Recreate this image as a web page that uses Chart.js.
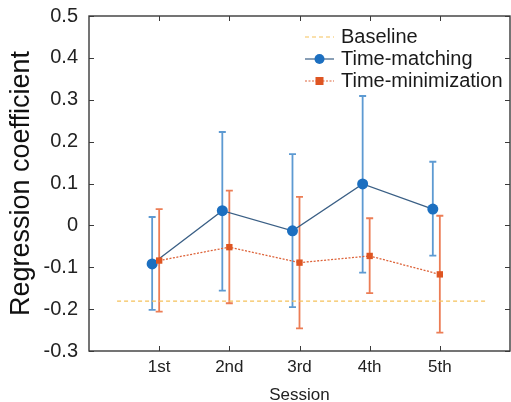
<!DOCTYPE html>
<html>
<head>
<meta charset="utf-8">
<script src="https://cdn.jsdelivr.net/npm/chart.js@4"></script>
<style>
  body { margin: 0; background: #fff; }
  #wrap { width: 511px; height: 402px; }
</style>
</head>
<body>
<div id="wrap"><canvas id="myChart" width="511" height="402"></canvas></div>
<script>
// data
var sessions = ["1st", "2nd", "3rd", "4th", "5th"];
var matchMean = [-0.092, 0.035, -0.013, 0.099, 0.039];
var matchUpper = [0.020, 0.223, 0.170, 0.309, 0.152];
var matchLower = [-0.202, -0.156, -0.195, -0.113, -0.072];
var minMean = [-0.084, -0.052, -0.089, -0.073, -0.117];
var minUpper = [0.039, 0.083, 0.068, 0.017, 0.023];
var minLower = [-0.206, -0.186, -0.246, -0.162, -0.256];
var baseline = -0.181;
var baselineSpan = [0.4, 5.65];
var yTicks = [-0.3, -0.2, -0.1, 0, 0.1, 0.2, 0.3, 0.4, 0.5];

var FONT = "'Liberation Sans', Arial, sans-serif";
var blueLine = "#3a5f85", blueDot = "#1c6fc0", blueBar = "#5d9ad2";
var redLine = "#dd6238", redDot = "#de5522", redBar = "#ec7d55";
var baseColor = "#f5c15a";
var shift = -0.1; // time-matching markers sit a bit left of the tick

function pts(vals, dx) {
  return vals.map(function (v, i) { return { x: i + 1 + dx, y: v }; });
}

// plot box runs right up to the edge of the picture
var stretchRight = {
  id: "stretchRight",
  afterLayout: function (chart) {
    var xs = chart.scales.x;
    xs.right = 510;
    xs.width = xs.right - xs.left;
    xs.configure();
    chart.chartArea.right = 510;
    chart.chartArea.width = 510 - chart.chartArea.left;
  }
};

var errorBars = {
  id: "errorBars",
  beforeDatasetsDraw: function (chart) {
    var c = chart.ctx, xs = chart.scales.x, ys = chart.scales.y;
    function bars(lo, hi, dx, col) {
      c.save();
      c.strokeStyle = col;
      c.lineWidth = 1.8;
      for (var i = 0; i < lo.length; i++) {
        var x = xs.getPixelForValue(i + 1 + dx);
        var y1 = ys.getPixelForValue(lo[i]), y2 = ys.getPixelForValue(hi[i]);
        c.beginPath();
        c.moveTo(x, y1); c.lineTo(x, y2);
        c.moveTo(x - 3.5, y1); c.lineTo(x + 3.5, y1);
        c.moveTo(x - 3.5, y2); c.lineTo(x + 3.5, y2);
        c.stroke();
      }
      c.restore();
    }
    bars(matchLower, matchUpper, shift, blueBar);
    bars(minLower, minUpper, 0, redBar);
  }
};

var frame = {
  id: "frame",
  afterDraw: function (chart) {
    var c = chart.ctx, a = chart.chartArea, xs = chart.scales.x, ys = chart.scales.y;
    c.save();
    c.strokeStyle = "#3a3a3a";
    c.lineWidth = 1.4;
    c.strokeRect(a.left, a.top, a.right - a.left, a.bottom - a.top);
    c.lineWidth = 1;
    c.beginPath();
    yTicks.forEach(function (t) {
      var y = Math.round(ys.getPixelForValue(t)) + 0.5;
      c.moveTo(a.left, y); c.lineTo(a.left + 5, y);
      c.moveTo(a.right, y); c.lineTo(a.right - 5, y);
    });
    sessions.forEach(function (s, i) {
      var x = Math.round(xs.getPixelForValue(i + 1)) + 0.5;
      c.moveTo(x, a.bottom); c.lineTo(x, a.bottom - 5);
      c.moveTo(x, a.top); c.lineTo(x, a.top + 5);
    });
    c.stroke();

    // legend
    var lx = 305, tx = 341, rows = [37, 59, 81];
    c.font = "20px " + FONT;
    c.fillStyle = "#1a1a1a";
    c.textBaseline = "middle";
    c.fillText("Baseline", tx, rows[0]);
    c.fillText("Time-matching", tx, rows[1]);
    c.fillText("Time-minimization", tx, rows[2]);

    c.lineWidth = 1.2;
    c.strokeStyle = baseColor;
    c.setLineDash([4, 3]);
    c.beginPath(); c.moveTo(lx, rows[0]); c.lineTo(lx + 29, rows[0]); c.stroke();

    c.strokeStyle = redLine;
    c.setLineDash([2, 1.5]);
    c.beginPath(); c.moveTo(lx, rows[2]); c.lineTo(lx + 29, rows[2]); c.stroke();

    c.setLineDash([]);
    c.strokeStyle = blueLine;
    c.beginPath(); c.moveTo(lx, rows[1]); c.lineTo(lx + 29, rows[1]); c.stroke();

    c.fillStyle = blueDot;
    c.beginPath(); c.arc(lx + 14.5, rows[1], 5, 0, Math.PI * 2); c.fill();
    c.fillStyle = redDot;
    c.fillRect(lx + 14.5 - 4, rows[2] - 4, 8, 8);
    c.restore();
  }
};

var ctx = document.getElementById("myChart");

var myChart = new Chart(ctx, {
  type: "line",
  data: {
    datasets: [{
      label: "Baseline",
      data: [{ x: baselineSpan[0], y: baseline }, { x: baselineSpan[1], y: baseline }],
      borderColor: baseColor,
      borderWidth: 1.2,
      borderDash: [4, 3],
      pointRadius: 0
    }, {
      label: "Time-minimization",
      data: pts(minMean, 0),
      borderColor: redLine,
      borderWidth: 1.3,
      borderDash: [2, 1.5],
      pointStyle: "rect",
      pointRadius: 4.5,
      pointBackgroundColor: redDot,
      pointBorderColor: redDot,
      pointBorderWidth: 0
    }, {
      label: "Time-matching",
      data: pts(matchMean, shift),
      borderColor: blueLine,
      borderWidth: 1.3,
      pointStyle: "circle",
      pointRadius: 5.5,
      pointBackgroundColor: blueDot,
      pointBorderColor: blueDot,
      pointBorderWidth: 0
    }]
  },
  options: {
    responsive: false,
    animation: false,
    layout: { padding: { top: 16, right: 1, left: 0, bottom: 0 } },
    plugins: { legend: { display: false }, tooltip: { enabled: false } },
    scales: {
      x: {
        type: "linear",
        min: 0,
        max: 6,
        grid: { display: false, drawTicks: false },
        border: { display: false },
        afterBuildTicks: function (axis) {
          axis.ticks = sessions.map(function (s, i) { return { value: i + 1 }; });
        },
        afterFit: function (axis) {
          axis.height = 51;
          axis.paddingLeft = 0;
          axis.paddingRight = 0;
        },
        ticks: {
          padding: 6,
          maxRotation: 0,
          color: "#222",
          font: { family: FONT, size: 17 },
          callback: function (v) { return sessions[v - 1]; }
        },
        title: {
          display: true,
          text: "Session",
          color: "#222",
          font: { family: FONT, size: 17 },
          padding: { top: 0, bottom: -4 }
        }
      },
      y: {
        min: -0.3,
        max: 0.5,
        grid: { display: false, drawTicks: false },
        border: { display: false },
        afterBuildTicks: function (axis) {
          axis.ticks = yTicks.map(function (t) { return { value: t }; });
        },
        afterFit: function (axis) {
          axis.width = 89;
          axis.paddingTop = 0;
          axis.paddingBottom = 0;
        },
        ticks: {
          padding: 11,
          color: "#222",
          font: { family: FONT, size: 20 },
          callback: function (v) { return String(Math.round(v * 10) / 10); }
        },
        title: {
          display: true,
          text: "Regression coefficient",
          color: "#111",
          font: { family: FONT, size: 27 },
          padding: { top: 5, bottom: 0 }
        }
      }
    }
  },
  plugins: [stretchRight, errorBars, frame]
});
</script>
</body>
</html>
